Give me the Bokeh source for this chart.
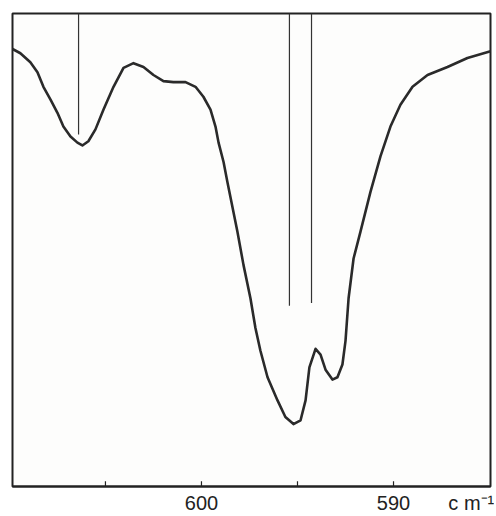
from bokeh.plotting import figure
from bokeh.models import Range1d, FixedTicker
from bokeh.embed import file_html
from bokeh.resources import INLINE

# Wavenumber (cm-1) and transmittance (%)
wavenumber = [609.84, 609.43, 608.91, 608.54, 608.23, 607.86, 607.50, 607.19, 606.82, 606.46,
              606.20, 605.89, 605.52, 605.10, 604.58, 604.06, 603.54, 603.02, 602.50, 601.98,
              601.46, 600.83, 600.31, 599.90, 599.53, 599.27, 599.11, 598.85, 598.65, 598.13,
              597.81, 597.45, 597.19, 596.93, 596.56, 596.04, 595.63, 595.21, 594.84, 594.58,
              594.38, 594.06, 593.80, 593.54, 593.18, 592.92, 592.66, 592.50, 592.34, 592.08,
              591.72, 591.20, 590.68, 590.16, 589.64, 589.01, 588.23, 587.19, 586.15, 584.95]
transmittance = [92.5, 91.6, 89.7, 87.6, 84.5, 81.8, 79.0, 76.1, 74.0, 72.7,
                 72.1, 73.0, 75.5, 79.7, 84.5, 88.5, 89.5, 88.7, 87.0, 85.7,
                 85.5, 85.5, 84.5, 82.4, 79.7, 76.1, 72.7, 68.6, 64.4, 53.9,
                 46.8, 39.8, 33.5, 28.7, 23.1, 18.2, 14.7, 13.2, 14.0, 18.2,
                 25.2, 29.1, 27.9, 24.7, 22.6, 23.1, 25.8, 30.8, 39.8, 48.2,
                 53.9, 62.3, 69.8, 76.1, 80.7, 84.5, 87.0, 88.7, 90.6, 92.0]

# Reference band markers (position, lower end in %)
marker_pos = [606.40, 595.42, 594.27]
marker_end = [74.4, 38.2, 38.8]

tick_values = [605, 600, 595, 590]
tick_labels = {605: "", 600: "600", 595: "", 590: "590"}
unit_pos = 585.95
unit_label = "c m\u207b\u00b9"

p = figure(width=494, height=516, output_backend="svg", toolbar_location=None,
           x_range=Range1d(609.84, 584.95), y_range=Range1d(0, 100),
           min_border_left=12, min_border_right=4, min_border_top=13, min_border_bottom=26)

p.background_fill_color = "#fdfdfc"
p.border_fill_color = "white"
p.outline_line_color = "#222222"
p.outline_line_width = 2
p.xgrid.visible = False
p.ygrid.visible = False
p.yaxis.visible = False

labels = dict(tick_labels)
labels[unit_pos] = unit_label

ax = p.xaxis[0]
ax.ticker = FixedTicker(ticks=tick_values + [unit_pos])
ax.major_label_overrides = labels
ax.major_tick_in = 0
ax.major_tick_out = 0
ax.major_tick_line_color = None
ax.minor_tick_line_color = None
ax.axis_line_color = "#222222"
ax.axis_line_width = 2
ax.major_label_text_font = "Liberation Sans"
ax.major_label_text_font_size = "20px"
ax.major_label_text_color = "#222222"
ax.major_label_standoff = 5

# small inward tick marks at the tick positions
p.segment(x0=tick_values, y0=[0] * len(tick_values), x1=tick_values,
          y1=[1.1] * len(tick_values), line_color="#222222", line_width=1.2)

p.segment(x0=marker_pos, y0=[100] * len(marker_pos), x1=marker_pos, y1=marker_end,
          line_color="#333333", line_width=1.2)

p.line(wavenumber, transmittance, line_color="#2a2a2a", line_width=2.6,
       line_join="round", line_cap="round")

open("out.html", "w").write(file_html(p, INLINE))
